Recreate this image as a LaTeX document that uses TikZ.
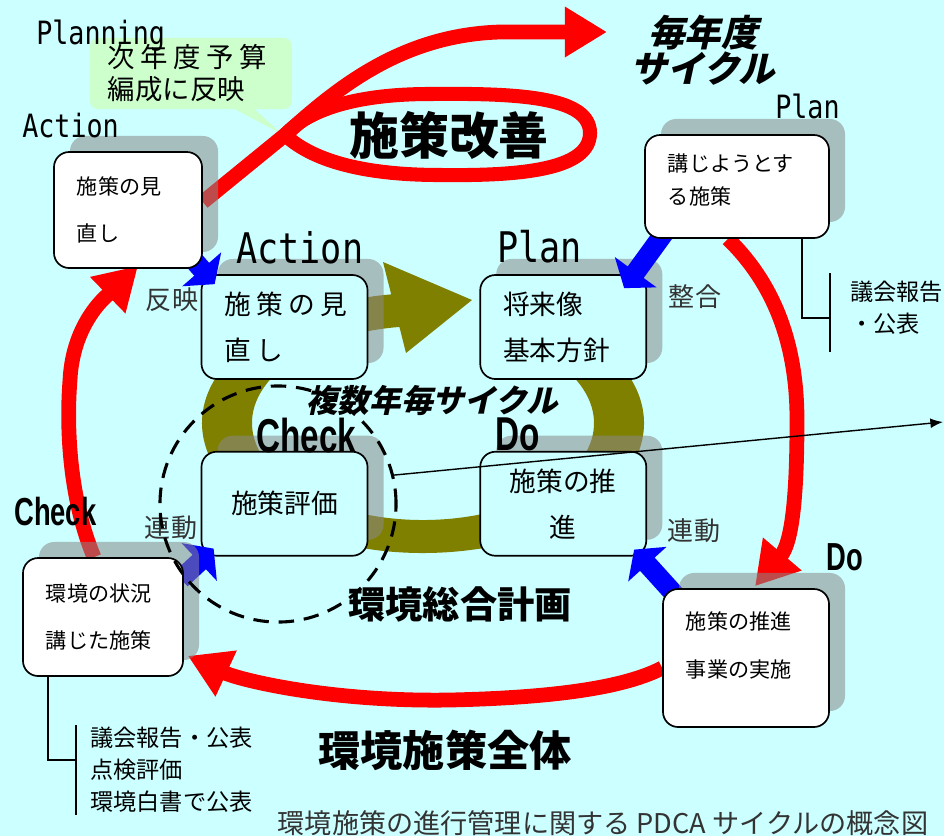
\documentclass[tikz,border=0pt]{standalone}
\usepackage{fontspec}
\usepackage{graphicx}
\setmainfont{Noto Sans CJK JP}
\newfontfamily\slantjp{Noto Sans CJK JP}[FakeSlant=0.22]
\newfontfamily\monolat{DejaVu Sans Mono}
\newfontfamily\boldlat{Liberation Sans}
\usetikzlibrary{arrows.meta,positioning,calc,shadows,shapes.callouts}
\pgfdeclarelayer{back}
\pgfdeclarelayer{inner}
\pgfdeclarelayer{flow}
\pgfdeclarelayer{front}
\pgfsetlayers{back,inner,flow,main,front}
\definecolor{bgcyan}{HTML}{CCFFFF}
\definecolor{shadegrey}{HTML}{898989}
\definecolor{olivefill}{HTML}{808000}
\definecolor{flowred}{HTML}{FF0000}
\definecolor{flowblue}{HTML}{0000FF}
\definecolor{notegreen}{HTML}{CCFFCC}
\definecolor{softtext}{HTML}{333333}
\newcommand{\phaselabel}[1]{{\boldlat\bfseries\scalebox{0.7}[1]{#1}}}
\newcommand{\stagetext}[1]{\scalebox{1}[1.2]{#1}}
\tikzset{
  box/.style={
    draw=black,
    line width=1.2pt,
    rounded corners=0.38cm,
    align=left,
    inner xsep=0.575cm,
    inner ysep=0pt,
    drop shadow={shadow xshift=0.4cm, shadow yshift=0.4cm, fill=shadegrey, opacity=0.55}
  },
  outerbox/.style={
    box,
    fill=white,
    font=\fontsize{15}{34}\selectfont
  },
  innerbox/.style={
    box,
    fill=bgcyan,
    text width=3cm,
    minimum height=2.6cm,
    font=\fontsize{19}{32.7}\selectfont
  },
  bubble/.style={
    rectangle callout,
    fill=notegreen,
    rounded corners=0.2cm,
    align=left,
    inner xsep=0.45cm,
    text width=4.15cm,
    minimum height=1.775cm,
    callout pointer width=0.5cm,
    font=\fontsize{19.5}{22.8}\selectfont
  },
  stagelabel/.style={
    inner sep=0pt,
    anchor=base west,
    font=\monolat\fontsize{19}{22}\selectfont
  },
  bigstage/.style={
    stagelabel,
    font=\monolat\fontsize{25}{30}\selectfont
  },
  phase/.style={
    inner sep=0pt,
    anchor=base west,
    font=\fontsize{27.8}{30}\selectfont
  },
  bigphase/.style={
    phase,
    font=\fontsize{33.8}{36}\selectfont
  },
  linktext/.style={
    text=softtext,
    font=\fontsize{18.5}{20}\selectfont
  },
  notetext/.style={
    anchor=north west,
    align=left,
    inner sep=0pt,
    font=\fontsize{16.5}{22.6}\selectfont
  },
  headline/.style={
    font=\bfseries\fontsize{#1}{#1}\selectfont
  },
  cycletitle/.style={
    align=center,
    font=\slantjp\bfseries\fontsize{#1}{22}\selectfont
  },
  redflow/.style={
    draw=flowred,
    line width=10.5pt,
    -{Triangle[length=30pt, width=34pt]}
  },
  redloop/.style={
    draw=flowred,
    line width=10pt,
    line join=round
  },
  blueflow/.style={
    draw=flowblue,
    line width=14pt,
    -{Triangle[length=14pt, width=36pt]}
  },
  bracket/.style={
    draw=black,
    line width=1pt
  },
  pointer/.style={
    draw=black,
    line width=1pt,
    -{Latex[length=9pt, width=7pt]}
  }
}

\begin{document}
\begin{tikzpicture}[x=0.025cm, y=-0.025cm]
\useasboundingbox (0,0) rectangle (944,836);

% Ground and the multi-year ring behind everything.
\begin{pgfonlayer}{back}
\fill[bgcyan] (0,0) rectangle (944,836);
\coordinate (ringc) at (423,423);
\fill[olivefill] ($(ringc)+(264:221 and 130)$)
  arc[start angle=264, end angle=-60, x radius=221, y radius=130]
  -- ($(ringc)+(-60:171 and 97)$)
  arc[start angle=-60, end angle=263, x radius=171, y radius=97] -- cycle;
\fill[olivefill] (383,262) -- (472,300) -- (406,353) -- cycle;
\end{pgfonlayer}

% Inner cycle: environment master plan.
\begin{pgfonlayer}{inner}
\node[innerbox] (actIn) at (284.5,327)
  {\addfontfeature{LetterSpace=20}施策の見\\直し};
\node[innerbox, right=2.775cm of actIn] (planIn) {将来像\\基本方針};
\node[innerbox, align=center, below=1.775cm of actIn] (chkIn) {施策評価};
\node[innerbox, align=center, right=2.775cm of chkIn] (doIn) {施策の推\\進};

\node[bubble, callout absolute pointer={(282,134)}] (budget) at (191,73.5)
  {{\addfontfeature{LetterSpace=20}次年度予算}\\編成に反映};
\end{pgfonlayer}

% Outer cycle: yearly policy boxes.
\node[outerbox, text width=2.55cm, minimum height=2.9cm] (actOut) at (128,210)
  {施策の見\\直し};
\node[outerbox, text width=3.45cm, minimum height=2.575cm,
  font=\fontsize{15}{23.5}\selectfont] (planOut) at (737,186.5)
  {講じようとす\\る施策\\[-13pt]\mbox{}};
\node[outerbox, text width=2.85cm, minimum height=2.95cm] (chkOut) at (103,617)
  {環境の状況\\講じた施策};
\node[outerbox, text width=3cm, minimum height=3.45cm] (doOut) at (746,658)
  {施策の推進\\事業の実施\\[-15pt]\mbox{}};

\coordinate (nextyear) at (607,32);

\begin{pgfonlayer}{flow}
% Links between the two cycles.
\draw[blueflow] ($(planOut.south west)+(23,-10)$) -- ($(planIn.north east)+(-23,14)$);
\draw[blueflow] ($(actOut.south east)+(-12,-12)$) -- ($(actIn.north west)+(14,10)$);
\draw[blueflow] ($(chkOut.north east)+(-3,22)$) -- ($(chkIn.south west)+(13,-8)$);
\draw[blueflow] ($(doOut.north west)+(15,9)$) -- ($(doIn.south east)+(-13,-7)$);

% Yearly cycle.
\draw[redflow] ($(planOut.south)+(-9,0)$) .. controls (765,275) and (797,330) .. (797,420)
  .. controls (797,510) and (790,545) .. ($(doOut.north)+(9,-2)$);
\draw[redflow] ($(doOut.west)+(0,10)$) .. controls (620,690) and (540,698) .. (450,700)
  .. controls (330,702) and (240,680) .. ($(chkOut.south east)+(4,-21)$);
\draw[redflow] ($(chkOut.north)+(-9,0)$) .. controls (70,500) and (66,430) .. (70,380)
  .. controls (73,320) and (110,293) .. ($(actOut.south)+(10,-3)$);
\draw[redflow] ([yshift=0.2cm]actOut.east) -- (285,135)
  .. controls (335,90) and (400,35) .. (500,32) -- (nextyear);
\draw[redloop] (285,135) .. controls (310,108) and (360,94) .. (430,94)
  .. controls (520,93) and (590,97) .. (590,133)
  .. controls (590,170) and (520,176) .. (440,175)
  .. controls (370,175) and (315,163) .. cycle;
\end{pgfonlayer}

\begin{pgfonlayer}{front}
\node[draw, dashed, circle, minimum size=5.9cm, line width=2.2pt,
  dash pattern=on 11pt off 7pt] (multi) at (278,504) {};
\coordinate (beyond) at (943,422);
\draw[pointer] (multi.14) -- (beyond);
\end{pgfonlayer}

% Stage labels.
\node[stagelabel] at (36,44) {\stagetext{Planning}};
\node[stagelabel] at (22,137) {\stagetext{Action}};
\node[stagelabel] at (775,118) {\stagetext{Plan}};
\node[bigstage] at (236,263) {\stagetext{Action}};
\node[bigstage] at (497,262) {\stagetext{Plan}};
\node[phase] at (14,525) {\phaselabel{Check}};
\node[phase] at (826,570) {\phaselabel{Do}};
\node[bigphase] at (256,452) {\phaselabel{Check}};
\node[bigphase] at (495,450) {\phaselabel{Do}};

\node[linktext] at (172,300) {反映};
\node[linktext] at (695,297) {整合};
\node[linktext] at (171,528) {連動};
\node[linktext] at (694,531) {連動};

\node[headline=35.5] (kaizen) at (449,135) {施策改善};
\node[cycletitle=26] (yearly) at (703,50) {毎年度\\サイクル};
\node[cycletitle=22.5] (multiyear) at (432,400) {複数年毎サイクル};
\node[headline=26.5] (masterplan) at (460,604) {環境総合計画};
\node[headline=30] (wholepolicy) at (445,750) {環境施策全体};
\node[text=softtext, font=\fontsize{19.3}{22}\selectfont] (caption) at (603,823)
  {環境施策の進行管理に関する PDCA サイクルの概念図};

% Reporting notes.
\node[notetext] (noteR) at (850,281) {議会報告\\・公表};
\node[notetext] (noteL) at (90,727) {議会報告・公表\\点検評価\\環境白書で公表};
\draw[bracket] ($(planOut.south east)+(-28,0)$) |- (830,318);
\draw[bracket] (830,273) -- (830,352);
\draw[bracket] ($(chkOut.south west)+(26,0)$) |- (76,760);
\draw[bracket] (76,725) -- (76,815);

\end{tikzpicture}
\end{document}
